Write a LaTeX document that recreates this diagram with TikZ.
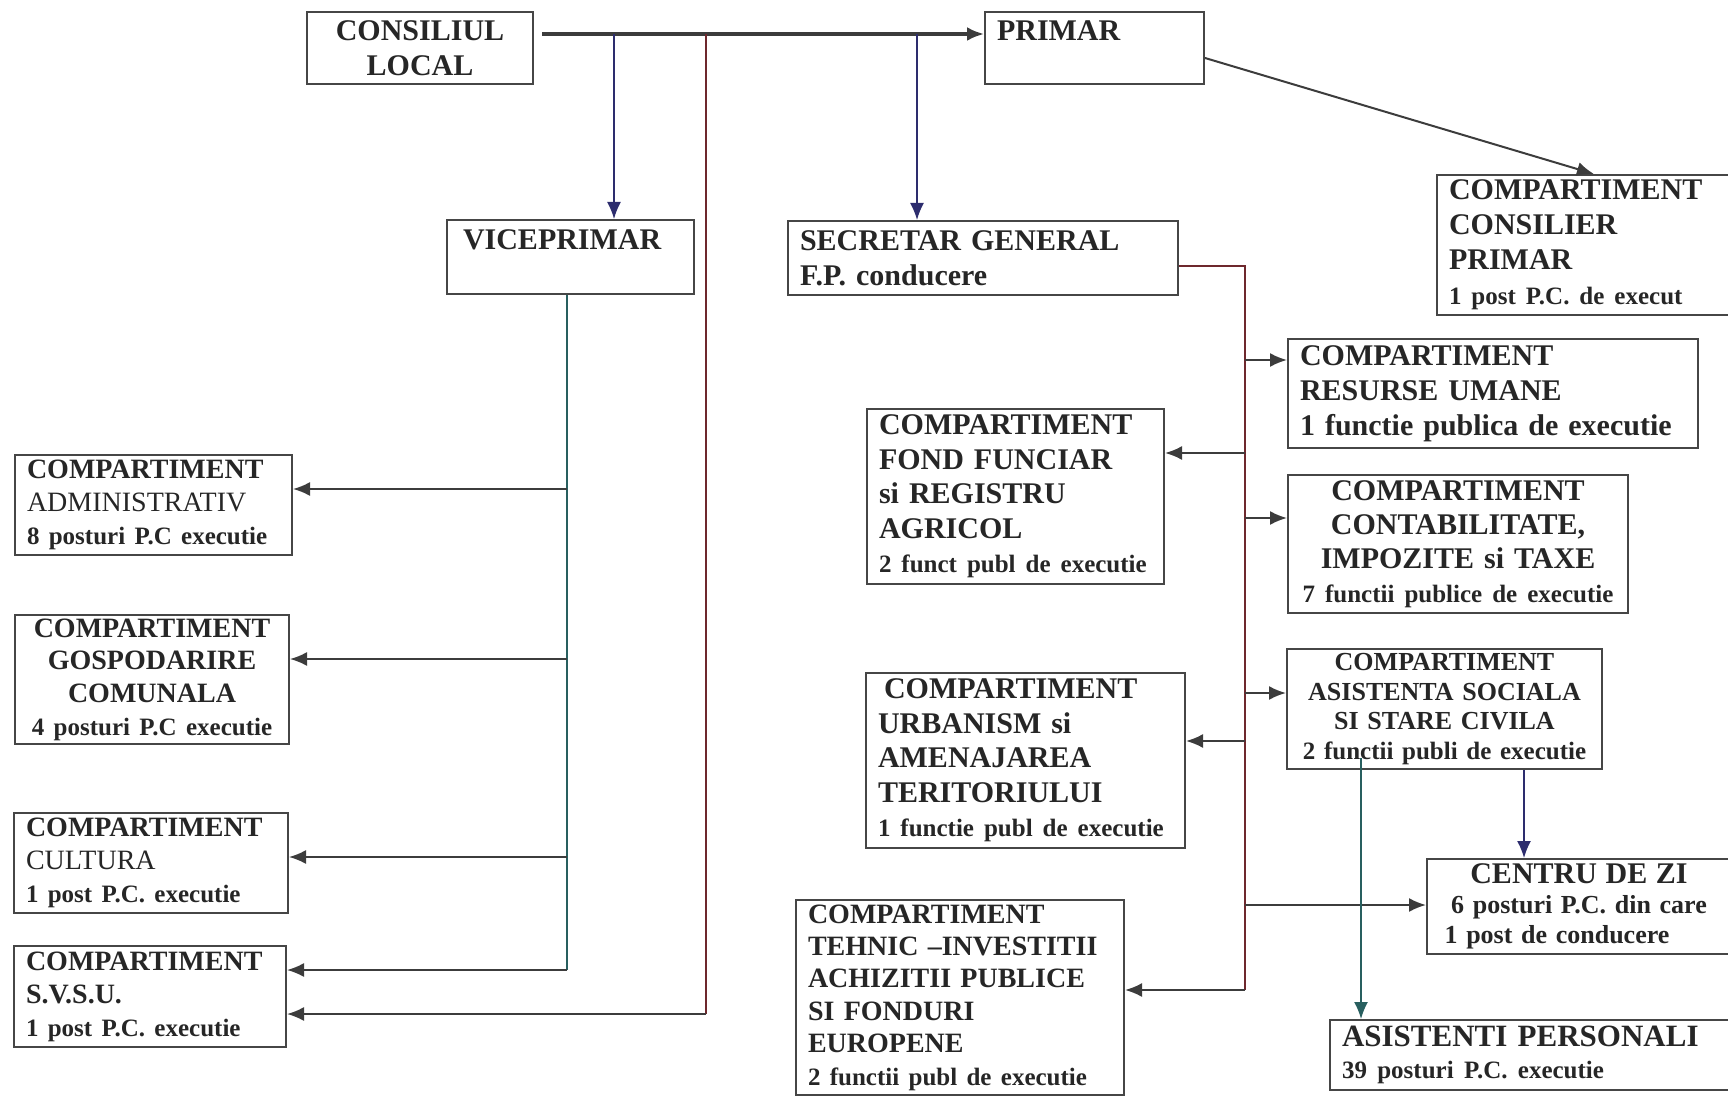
\documentclass[tikz,border=0pt]{standalone}
\usepackage{fontspec}
\setmainfont{Liberation Serif}
\usepackage{tikz}
\usetikzlibrary{arrows, arrows.meta, calc, positioning}

\definecolor{boxgray}{RGB}{70,70,70}
\definecolor{linegray}{RGB}{60,60,60}
\definecolor{navyline}{RGB}{45,45,110}
\definecolor{tealline}{RGB}{40,95,95}
\definecolor{redline}{RGB}{110,40,45}

\newcommand{\smalltxt}{\fontsize{12.5}{15}\selectfont}

\begin{document}
\begin{tikzpicture}[style=thick, x=0.5pt, y=-0.5pt, >={Latex[length=8.5pt,width=7pt]}]
            \useasboundingbox (0,0) rectangle (1728,1096);
            \begin{scope}[anchor=north west]
            \tikzstyle{every node}=[draw=boxgray, line width=1pt, inner xsep=6pt, inner ysep=1pt, text=black!85, font=\bfseries\fontsize{15}{17.5}\selectfont]

            \node[align=center, text width=101pt, minimum height=36pt] (c_local) at (306,11) {CONSILIUL\\LOCAL};
            \node[align=left, text width=97.5pt, minimum height=36pt] (c_primar) at (984,11) {PRIMAR\\\mbox{}};
            \node[align=left, text width=111.5pt, minimum height=37pt] (c_vice) at (446,219) {\hspace*{2pt}VICEPRIMAR\\\mbox{}};
            \node[align=left, text width=183pt, minimum height=37pt] (c_secr) at (787,220) {SECRETAR GENERAL\\F.P. conducere};
            \node[align=left, text width=136pt, minimum height=70pt, font=\bfseries\fontsize{15}{17.5}\selectfont] (c_cons) at (1436,174) {COMPARTIMENT\\CONSILIER\\PRIMAR\\{\smalltxt 1 post P.C. de execut}};

            \node[align=left, text width=126.5pt, minimum height=50pt, font=\bfseries\fontsize{14}{16.5}\selectfont] (c_adm) at (14,454) {COMPARTIMENT\\{\mdseries ADMINISTRATIV}\\{\smalltxt 8 posturi P.C executie}};
            \node[align=center, text width=125pt, minimum height=64.5pt, font=\bfseries\fontsize{14}{16.3}\selectfont] (c_gosp) at (14,614) {COMPARTIMENT\\GOSPODARIRE\\COMUNALA\\{\smalltxt 4 posturi P.C executie}};
            \node[align=left, text width=125pt, minimum height=50pt, font=\bfseries\fontsize{14}{16.5}\selectfont] (c_cult) at (13,812) {COMPARTIMENT\\{\mdseries CULTURA}\\{\smalltxt 1 post P.C. executie}};
            \node[align=left, text width=124pt, minimum height=50.5pt, font=\bfseries\fontsize{14}{16.5}\selectfont] (c_svsu) at (13,945) {COMPARTIMENT\\S.V.S.U.\\{\smalltxt 1 post P.C. executie}};

            \node[align=left, text width=193pt, minimum height=54.5pt, font=\bfseries\fontsize{15}{17.5}\selectfont] (c_ru) at (1287,338) {COMPARTIMENT\\RESURSE UMANE\\1 functie publica de executie};
            \node[align=left, text width=136.5pt, minimum height=87.5pt, font=\bfseries\fontsize{15}{17.3}\selectfont] (c_fond) at (866,408) {COMPARTIMENT\\FOND FUNCIAR\\si REGISTRU\\AGRICOL\\{\smalltxt 2 funct publ de executie}};
            \node[align=center, text width=158pt, minimum height=69pt, font=\bfseries\fontsize{15}{17}\selectfont] (c_cont) at (1287,474) {COMPARTIMENT\\CONTABILITATE,\\IMPOZITE si TAXE\\{\smalltxt 7 functii publice de executie}};
            \node[align=center, inner xsep=3pt, text width=151.5pt, minimum height=60pt, font=\bfseries\fontsize{13}{14.8}\selectfont] (c_as) at (1286,648) {COMPARTIMENT\\ASISTENTA SOCIALA\\SI STARE CIVILA\\{\fontsize{12.5}{14.8}\selectfont 2 functii publi de executie}};
            \node[align=left, text width=147.5pt, minimum height=87.5pt, font=\bfseries\fontsize{15}{17.3}\selectfont] (c_urb) at (865,672) {\hspace*{3pt}COMPARTIMENT\\URBANISM si\\AMENAJAREA\\TERITORIULUI\\{\smalltxt 1 functie publ de executie}};
            \node[align=center, text width=140pt, minimum height=47.5pt, font=\bfseries\fontsize{13}{15}\selectfont] (c_cz) at (1426,858) {{\fontsize{15}{15}\selectfont CENTRU DE ZI}\\6 posturi P.C. din care\\\hspace*{-22pt}1 post de conducere};
            \node[align=left, text width=152pt, minimum height=97.5pt, font=\bfseries\fontsize{14}{16.2}\selectfont] (c_teh) at (795,899) {COMPARTIMENT\\TEHNIC –INVESTITII\\ACHIZITII PUBLICE\\SI FONDURI\\EUROPENE\\{\smalltxt 2 functii publ de executie}};
            \node[align=left, text width=188.5pt, minimum height=35pt, font=\bfseries\fontsize{15.5}{16}\selectfont] (c_ap) at (1329,1019) {ASISTENTI PERSONALI\\{\smalltxt 39 posturi P.C. executie}};

            \end{scope}

            % points on the lines
            \coordinate (m_1) at (614,34);
            \coordinate (m_2) at (706,34);
            \coordinate (m_3) at (917,34);
            \coordinate (s_2) at (706,1014);
            \coordinate (v_1) at (567,489);
            \coordinate (v_2) at (567,659);
            \coordinate (v_3) at (567,857);
            \coordinate (v_4) at (567,970);
            \coordinate (t_0) at (1245,266);
            \coordinate (t_1) at (1245,360);
            \coordinate (t_2) at (1245,453);
            \coordinate (t_3) at (1245,518);
            \coordinate (t_4) at (1245,693);
            \coordinate (t_5) at (1245,741);
            \coordinate (t_6) at (1245,905);
            \coordinate (t_7) at (1245,990);
            \coordinate (a_1) at (1524,0);
            \coordinate (a_2) at (1361,0);

            \draw [->, line width=1.6pt, linegray] ([xshift=4pt]c_local.east |- m_1) -- (c_primar.west |- m_1);
            \draw [->, navyline, line width=0.8pt] (m_1) -- (m_1 |- c_vice.north);
            \draw [->, navyline, line width=0.8pt] (m_3) -- (m_3 |- c_secr.north);
            \draw [redline, line width=0.8pt] (m_2) -- (s_2);
            \draw [->, linegray, line width=0.9pt] (s_2) -- (s_2 -| c_svsu.east);
            \draw [->, linegray, line width=1pt] ([yshift=-5pt]c_primar.east) -- ($(c_cons.north west)!0.53!(c_cons.north east)$);

            \draw [tealline, line width=0.8pt] (c_vice.south -| v_1) -- (v_4);
            \draw [->, linegray, line width=0.9pt] (v_1) -- (v_1 -| c_adm.east);
            \draw [->, linegray, line width=0.9pt] (v_2) -- (v_2 -| c_gosp.east);
            \draw [->, linegray, line width=0.9pt] (v_3) -- (v_3 -| c_cult.east);
            \draw [->, linegray, line width=0.9pt] (v_4) -- (v_4 -| c_svsu.east);

            \draw [redline, line width=0.8pt] (c_secr.east |- t_0) -- (t_0) -- (t_7);
            \draw [->, linegray, line width=1pt] (t_1) -- (t_1 -| c_ru.west);
            \draw [->, linegray, line width=1pt] (t_2) -- (t_2 -| c_fond.east);
            \draw [->, linegray, line width=1pt] (t_3) -- (t_3 -| c_cont.west);
            \draw [->, linegray, line width=1pt] (t_4) -- (t_4 -| c_as.west);
            \draw [->, linegray, line width=1pt] (t_5) -- (t_5 -| c_urb.east);
            \draw [->, linegray, line width=1pt] (t_6) -- (t_6 -| c_cz.west);
            \draw [->, linegray, line width=1pt] (t_7) -- (t_7 -| c_teh.east);

            \draw [->, navyline, line width=0.8pt] (c_as.south -| a_1) -- (a_1 |- c_cz.north);
            \draw [->, tealline, line width=0.8pt] ([yshift=6pt]c_as.south -| a_2) -- (a_2 |- c_ap.north);
        \end{tikzpicture}
\end{document}
